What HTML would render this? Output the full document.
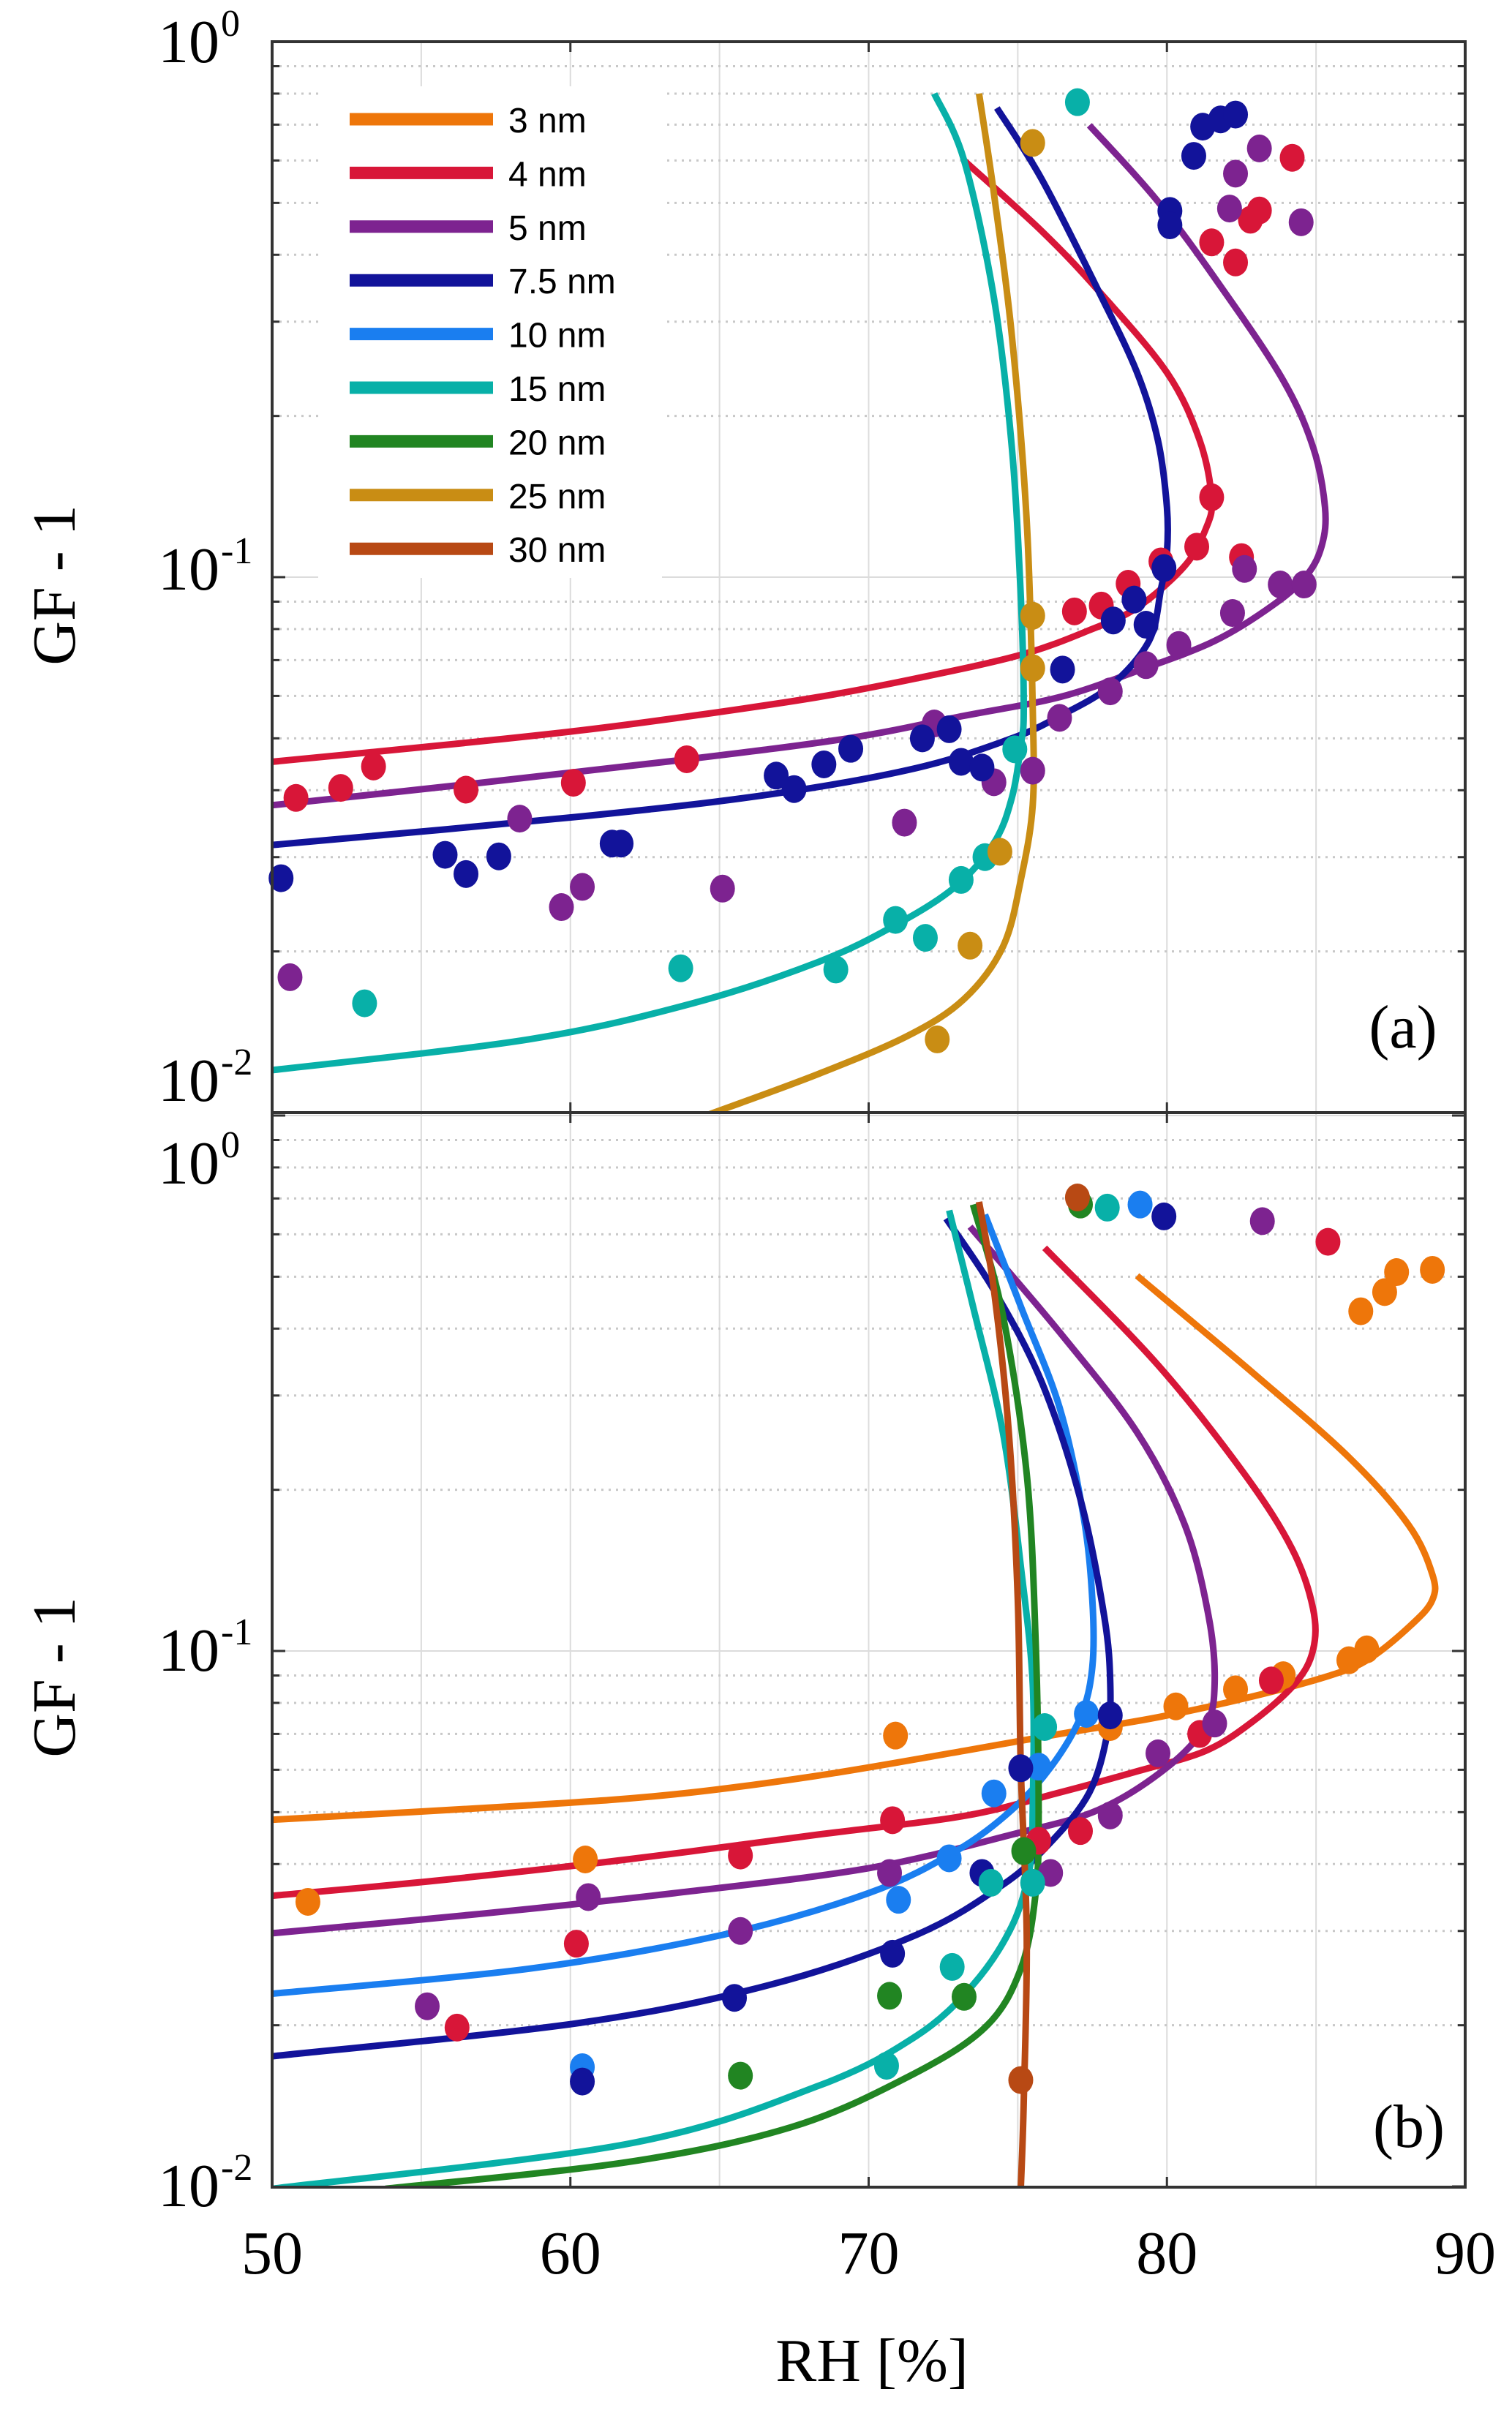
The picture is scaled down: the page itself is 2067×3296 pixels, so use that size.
<!DOCTYPE html>
<html><head><meta charset="utf-8">
<style>
html,body{margin:0;padding:0;background:#fff;}
svg{display:block;}
.tick{font-family:"Liberation Serif",serif;font-size:84px;fill:#000;}
.sup{font-size:52px;}
.leg{font-family:"Liberation Sans",sans-serif;font-size:48px;fill:#000;}
</style></head>
<body>
<svg id="chart" width="2067" height="3296" viewBox="0 0 2067 3296" xmlns="http://www.w3.org/2000/svg">
<defs>
<clipPath id="clipA"><rect x="372" y="57" width="1631" height="1464"/></clipPath>
<clipPath id="clipB"><rect x="372" y="1521" width="1631" height="1469"/></clipPath>
</defs>
<g id="gridA"></g>
<g id="gridB"></g>
<rect x="435" y="118" width="470" height="672" fill="#fff"/>
<g id="linesA" clip-path="url(#clipA)"></g>
<g id="linesB" clip-path="url(#clipB)"></g>
<g id="dotsA"></g>
<g id="dotsB"></g>
<g id="axes"></g>
<g id="legend"></g>
<text class="tick" x="1918" y="1432" text-anchor="middle" font-size="90">(a)</text>
<text class="tick" x="1926" y="2935" text-anchor="middle" font-size="90">(b)</text>
<text class="tick" x="1192" y="3255" text-anchor="middle">RH [%]</text>
<text class="tick" transform="translate(102,800) rotate(-90)" text-anchor="middle">GF - 1</text>
<text class="tick" transform="translate(102,2293) rotate(-90)" text-anchor="middle">GF - 1</text>
</svg>
<script>
const NS="http://www.w3.org/2000/svg";
const sizes=["3 nm","4 nm","5 nm","7.5 nm","10 nm","15 nm","20 nm","25 nm","30 nm"];
const colors=["#EE760A","#D81638","#7D2390","#12139A","#1A7EF0","#08B0A8","#218522","#C98D14","#B84914"];
const xTicks=[50,60,70,80,90];
const yTickExp=[0,-1,-2];

// Panel (a) model curves [RH, GF-1]
const aCurve4RH=[73.2,75.8,77.7,80.0,81.1,81.5,81.3,80.6,79.0,77.4,75.1,71.6,68.3,64.1,60.3,56.1,50];
const aCurve4GF=[0.60,0.443,0.343,0.241,0.180,0.140,0.123,0.105,0.0877,0.0796,0.0716,0.0647,0.0597,0.0551,0.0517,0.0488,0.0452];
const aCurve5RH=[77.4,79.7,81.9,83.9,84.9,85.3,85.2,84.7,83.6,81.6,79.0,76.4,73.2,69.3,63.5,57.0,50];
const aCurve5GF=[0.698,0.503,0.343,0.233,0.175,0.135,0.115,0.101,0.089,0.076,0.0668,0.0597,0.0551,0.050,0.0454,0.0413,0.0375];
const aCurve75RH=[74.3,75.8,77.7,79.0,79.7,80.0,80.0,79.8,79.4,78.1,76.4,74.8,71.6,66.7,60.3,50];
const aCurve75GF=[0.752,0.554,0.343,0.241,0.180,0.135,0.111,0.095,0.076,0.0626,0.055,0.050,0.044,0.0393,0.0357,0.0316];
const aCurve15RH=[72.2,73.2,74.2,74.8,75.1,75.2,75.1,74.8,74.2,72.9,70.9,68.3,64.1,58.6,50];
const aCurve15GF=[0.80,0.60,0.332,0.175,0.092,0.0569,0.0485,0.0387,0.0319,0.0264,0.0224,0.0191,0.016,0.0137,0.012];
const aCurve25RH=[73.7,74.2,74.8,75.3,75.5,75.5,75.1,74.5,73.2,71.3,68.3,64.6];
const aCurve25GF=[0.80,0.52,0.283,0.127,0.0569,0.0375,0.0272,0.0204,0.0163,0.0139,0.0118,0.0099];

// Panel (a) measurements
const aPts4RH=[50.8,52.3,53.4,56.5,60.1,63.9,76.9,77.8,78.7,79.8,81.0,81.5,82.5,81.5,82.3,82.8,83.1,84.2];
const aPts4GF=[0.0387,0.0404,0.0443,0.0401,0.0413,0.0457,0.0863,0.0885,0.0972,0.107,0.114,0.141,0.109,0.422,0.387,0.465,0.484,0.607];
const aPts5RH=[50.6,58.3,59.7,60.4,65.1,71.2,72.2,74.2,75.5,76.4,78.1,79.3,80.4,82.2,82.6,83.8,84.6,82.1,82.3,83.1,84.5];
const aPts5GF=[0.0179,0.0354,0.0242,0.0264,0.0262,0.0348,0.0533,0.0414,0.0435,0.0546,0.0612,0.0685,0.0747,0.0857,0.1036,0.0969,0.0969,0.488,0.567,0.632,0.460];
const aPts75RH=[50.3,55.8,56.5,57.6,61.4,61.7,66.9,67.5,68.5,69.4,71.8,72.7,73.1,73.8,76.5,78.2,78.9,79.3,79.9,80.1,80.1,80.9,81.2,81.8,82.3];
const aPts75GF=[0.0274,0.0303,0.0279,0.0301,0.0318,0.0318,0.0426,0.0402,0.0447,0.0478,0.050,0.052,0.0452,0.0441,0.0672,0.083,0.0908,0.0815,0.104,0.483,0.454,0.612,0.694,0.716,0.731];
const aPts15RH=[53.1,63.7,68.9,70.9,71.9,73.1,73.9,74.9,77.0];
const aPts15GF=[0.016,0.0186,0.0185,0.0229,0.0212,0.0272,0.030,0.0477,0.771];
const aPts25RH=[72.3,73.4,74.4,75.5,75.5,75.5];
const aPts25GF=[0.0137,0.0205,0.0307,0.0676,0.0847,0.647];

// Panel (b) model curves
const bCurve3RH=[79.0,82.9,86.1,88.1,88.9,88.9,88.2,86.8,85.5,82.9,79.7,76.4,73.2,68.3,63.5,58.6,50];
const bCurve3GF=[0.502,0.330,0.230,0.172,0.139,0.1245,0.112,0.0968,0.0901,0.0823,0.0752,0.070,0.0651,0.0585,0.054,0.0515,0.0484];
const bCurve4RH=[75.9,79.7,82.6,84.2,84.9,84.9,84.3,82.9,81.3,79.0,76.4,73.2,68.3,61.9,55.4,50];
const bCurve4GF=[0.566,0.342,0.214,0.155,0.120,0.1004,0.087,0.074,0.0651,0.0596,0.0544,0.0492,0.0454,0.0408,0.0372,0.0349];
const bCurve5RH=[73.4,76.4,79.0,80.6,81.4,81.6,81.3,80.0,77.7,74.8,70.0,63.5,57.0,50];
const bCurve5GF=[0.62,0.394,0.256,0.172,0.116,0.0869,0.0726,0.0606,0.0505,0.0454,0.0393,0.0353,0.0323,0.0297];
const bCurve10RH=[73.9,75.1,76.4,77.2,77.5,77.5,77.1,76.1,74.8,72.9,70.0,65.1,58.6,50];
const bCurve10GF=[0.653,0.44,0.285,0.179,0.1245,0.0934,0.0752,0.0606,0.0505,0.0422,0.0353,0.0295,0.0255,0.0229];
const bCurve75RH=[72.6,74.2,75.8,77.1,77.9,78.1,78.0,77.4,76.1,74.5,71.6,66.7,60.3,50];
const bCurve75GF=[0.642,0.472,0.318,0.192,0.116,0.0869,0.070,0.0544,0.0439,0.0366,0.0295,0.0238,0.0202,0.0175];
const bCurve15RH=[72.7,73.5,74.5,75.1,75.5,75.5,75.4,74.8,73.5,71.6,68.3,61.9,50];
const bCurve15GF=[0.665,0.44,0.256,0.144,0.0869,0.0505,0.0393,0.0306,0.0238,0.0191,0.0154,0.012,0.0099];
const bCurve20RH=[73.5,74.5,75.3,75.6,75.7,75.6,75.1,73.9,71.3,67.4,61.9,53.8];
const bCurve20GF=[0.682,0.424,0.214,0.104,0.0505,0.0353,0.0255,0.0198,0.016,0.0129,0.0111,0.0099];
const bCurve30RH=[73.7,74.2,74.7,75.0,75.1,75.3,75.2,75.1];
const bCurve30GF=[0.69,0.472,0.256,0.1245,0.0606,0.0295,0.0144,0.0099];

// Panel (b) measurements
const bPts3RH=[51.2,60.5,70.9,78.1,80.3,82.3,83.9,86.1,86.7,86.5,87.3,87.7,88.9];
const bPts3GF=[0.034,0.0408,0.0695,0.0721,0.0788,0.0848,0.0901,0.0961,0.1007,0.431,0.468,0.510,0.515];
const bPts4RH=[56.2,60.2,65.7,70.8,75.7,77.1,81.1,83.5,85.4];
const bPts4GF=[0.0198,0.0284,0.0415,0.0483,0.0442,0.0461,0.070,0.0881,0.581];
const bPts5RH=[55.2,60.6,65.7,70.7,76.1,78.1,79.7,81.6,83.2];
const bPts5GF=[0.0217,0.0347,0.030,0.0385,0.0385,0.0493,0.0644,0.0732,0.635];
const bPts10RH=[60.4,71.0,72.7,74.2,75.7,77.3,79.1];
const bPts10GF=[0.0167,0.0343,0.041,0.0542,0.0608,0.0763,0.682];
const bPts75RH=[60.4,65.5,70.8,73.8,75.1,78.1,79.9];
const bPts75GF=[0.0157,0.0225,0.0272,0.0385,0.0604,0.0758,0.648];
const bPts15RH=[70.6,72.8,74.1,75.5,75.9,78.0];
const bPts15GF=[0.0168,0.0257,0.0369,0.0369,0.0721,0.673];
const bPts20RH=[65.7,70.7,73.2,75.2,77.1];
const bPts20GF=[0.0161,0.0227,0.0226,0.0423,0.682];
const bPts30RH=[75.1,77.0];
const bPts30GF=[0.0158,0.703];

const X0=372,X1=2003,YA0=57,YA1=1521,YB0=1521,YB1=2990,DEC=732;
function xs(rh){return X0+(rh-50)*(X1-X0)/40;}
function yA(g){return YA0-Math.log10(g)*DEC;}
function yB(g){return 1525-Math.log10(g)*DEC;}

function mk(tag,attrs,parent){const e=document.createElementNS(NS,tag);for(const k in attrs)e.setAttribute(k,attrs[k]);parent.appendChild(e);return e;}

function smoothPath(pts){
  let d="M"+pts[0][0].toFixed(1)+","+pts[0][1].toFixed(1);
  for(let i=0;i<pts.length-1;i++){
    const p0=pts[i-1]||pts[i],p1=pts[i],p2=pts[i+1],p3=pts[i+2]||p2;
    const c1=[p1[0]+(p2[0]-p0[0])/6,p1[1]+(p2[1]-p0[1])/6];
    const c2=[p2[0]-(p3[0]-p1[0])/6,p2[1]-(p3[1]-p1[1])/6];
    d+="C"+c1[0].toFixed(1)+","+c1[1].toFixed(1)+" "+c2[0].toFixed(1)+","+c2[1].toFixed(1)+" "+p2[0].toFixed(1)+","+p2[1].toFixed(1);
  }
  return d;
}

function drawGrid(gid,yf,top,bot){
  const g=document.getElementById(gid);
  for(let rh=55;rh<90;rh+=5){
    const l=mk("line",{x1:xs(rh),x2:xs(rh),y1:top,y2:bot,stroke:"#dcdcdc","stroke-width":2},g);
    
    
  }
  for(let e=-2;e<=0;e++){
    for(let m=1;m<=9;m++){
      const v=m*Math.pow(10,e);const y=yf(v);
      if(y<top-1||y>bot+1)continue;
      if(m===1){
        const l=mk("line",{x1:X0,x2:X1,y1:y,y2:y,stroke:"#dcdcdc","stroke-width":2},g);
        
        
      } else {
        const l=mk("line",{x1:X0,x2:X1,y1:y,y2:y,stroke:"#c8c8c8","stroke-width":3,"stroke-dasharray":"3 7"},g);
        
        
      }
      const t1=mk("line",{x1:X0,x2:X0+(m===1?18:10),y1:y,y2:y,stroke:"#333","stroke-width":3},g);
      
      
      const t2=mk("line",{x1:X1,x2:X1-(m===1?18:10),y1:y,y2:y,stroke:"#333","stroke-width":3},g);
      
      
    }
  }
  for(const rh of xTicks){
    const t=mk("line",{x1:xs(rh),x2:xs(rh),y1:bot,y2:bot-14,stroke:"#333","stroke-width":3},g);
    
    
    const t2=mk("line",{x1:xs(rh),x2:xs(rh),y1:top,y2:top+14,stroke:"#333","stroke-width":3},g);
    
    
  }
}
drawGrid("gridA",yA,YA0,YA1);
drawGrid("gridB",yB,YB0,YB1);

function drawCurve(gid,rhs,gfs,yf,col,name){
  const pts=rhs.map((r,i)=>[xs(r),yf(gfs[i])]);
  const p=mk("path",{d:smoothPath(pts),fill:"none",stroke:col,"stroke-width":9,"stroke-linejoin":"round"},document.getElementById(gid));
  
  
}
function drawDots(gid,rhs,gfs,yf,col,name){
  const g=document.getElementById(gid);
  rhs.forEach((r,i)=>{
    const e=mk("ellipse",{cx:xs(r),cy:yf(gfs[i]),rx:17,ry:19,fill:col},g);
    
    
  });
}
drawCurve("linesA",aCurve4RH,aCurve4GF,yA,colors[1],"curve-a-4nm");
drawCurve("linesA",aCurve5RH,aCurve5GF,yA,colors[2],"curve-a-5nm");
drawCurve("linesA",aCurve75RH,aCurve75GF,yA,colors[3],"curve-a-7-5nm");
drawCurve("linesA",aCurve15RH,aCurve15GF,yA,colors[5],"curve-a-15nm");
drawCurve("linesA",aCurve25RH,aCurve25GF,yA,colors[7],"curve-a-25nm");
drawDots("dotsA",aPts4RH,aPts4GF,yA,colors[1],"point-a-4nm");
drawDots("dotsA",aPts5RH,aPts5GF,yA,colors[2],"point-a-5nm");
drawDots("dotsA",aPts75RH,aPts75GF,yA,colors[3],"point-a-7-5nm");
drawDots("dotsA",aPts15RH,aPts15GF,yA,colors[5],"point-a-15nm");
drawDots("dotsA",aPts25RH,aPts25GF,yA,colors[7],"point-a-25nm");

drawCurve("linesB",bCurve3RH,bCurve3GF,yB,colors[0],"curve-b-3nm");
drawCurve("linesB",bCurve4RH,bCurve4GF,yB,colors[1],"curve-b-4nm");
drawCurve("linesB",bCurve5RH,bCurve5GF,yB,colors[2],"curve-b-5nm");
drawCurve("linesB",bCurve10RH,bCurve10GF,yB,colors[4],"curve-b-10nm");
drawCurve("linesB",bCurve75RH,bCurve75GF,yB,colors[3],"curve-b-7-5nm");
drawCurve("linesB",bCurve15RH,bCurve15GF,yB,colors[5],"curve-b-15nm");
drawCurve("linesB",bCurve20RH,bCurve20GF,yB,colors[6],"curve-b-20nm");
drawCurve("linesB",bCurve30RH,bCurve30GF,yB,colors[8],"curve-b-30nm");
drawDots("dotsB",bPts3RH,bPts3GF,yB,colors[0],"point-b-3nm");
drawDots("dotsB",bPts4RH,bPts4GF,yB,colors[1],"point-b-4nm");
drawDots("dotsB",bPts5RH,bPts5GF,yB,colors[2],"point-b-5nm");
drawDots("dotsB",bPts10RH,bPts10GF,yB,colors[4],"point-b-10nm");
drawDots("dotsB",bPts75RH,bPts75GF,yB,colors[3],"point-b-7-5nm");
drawDots("dotsB",bPts15RH,bPts15GF,yB,colors[5],"point-b-15nm");
drawDots("dotsB",bPts20RH,bPts20GF,yB,colors[6],"point-b-20nm");
drawDots("dotsB",bPts30RH,bPts30GF,yB,colors[8],"point-b-30nm");

// axes frames and labels
const ax=document.getElementById("axes");
const fa=mk("rect",{x:X0,y:YA0,width:X1-X0,height:YA1-YA0,fill:"none",stroke:"#333","stroke-width":4},ax);


const fb=mk("rect",{x:X0,y:YB0,width:X1-X0,height:YB1-YB0,fill:"none",stroke:"#333","stroke-width":4},ax);



xTicks.forEach(v=>{
  const t=mk("text",{x:xs(v),y:3108,"text-anchor":"middle",class:"tick"},ax);
  t.textContent=String(v);
  
  
});
const yLabA=[85,806,1505];
const yLabB=[1618,2284,3016];
function yLabel(e,y){
  const t=mk("text",{x:300,y:y,"text-anchor":"end",class:"tick"},ax);
  t.textContent="10";
  
  
  const s=mk("text",{x:302,y:y-36,class:"tick sup"},ax);
  s.textContent=String(e);
  
  
}
yTickExp.forEach((e,i)=>{yLabel(e,yLabA[i]);yLabel(e,yLabB[i]);});

// legend
const lg=document.getElementById("legend");
sizes.forEach((s,i)=>{
  const y=163+i*73.4;
  const l=mk("line",{x1:478,x2:674,y1:y,y2:y,stroke:colors[i],"stroke-width":17},lg);
  
  
  const t=mk("text",{x:695,y:y+18,class:"leg"},lg);
  t.textContent=s;
  
  
});
</script>
</body></html>
